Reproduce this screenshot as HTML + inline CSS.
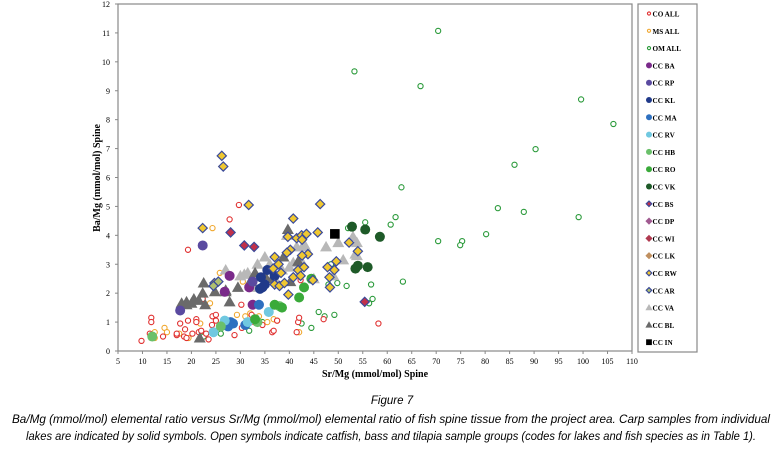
<!DOCTYPE html>
<html><head><meta charset="utf-8"><style>
body{margin:0;background:#fff;}
svg{display:block;font-family:"Liberation Serif",serif;}
</style></head><body>
<svg id="chart" width="784" height="455" viewBox="0 0 784 455" xmlns="http://www.w3.org/2000/svg">
<rect x="118" y="4" width="514" height="347" fill="#fff" stroke="#888" stroke-width="1.2"/>
<g id="axes"></g>
<g id="marks"></g>
<text x="375" y="377" text-anchor="middle" font-weight="bold" font-size="10">Sr/Mg (mmol/mol) Spine</text>
<text transform="translate(100,178) rotate(-90)" text-anchor="middle" font-weight="bold" font-size="10">Ba/Mg (mmol/mol) Spine</text>
<rect x="638" y="4" width="59" height="348" fill="#fff" stroke="#888" stroke-width="1.2"/>
<g id="legend"></g>
<text x="392" y="404" text-anchor="middle" font-family="Liberation Sans, sans-serif" font-style="italic" font-size="11.5">Figure 7</text>
<text x="12" y="423" textLength="758" lengthAdjust="spacingAndGlyphs" font-family="Liberation Sans, sans-serif" font-style="italic" font-size="11.5">Ba/Mg (mmol/mol) elemental ratio versus Sr/Mg (mmol/mol) elemental ratio of fish spine tissue from the project area. Carp samples from individual</text>
<text x="26" y="440" textLength="730" lengthAdjust="spacingAndGlyphs" font-family="Liberation Sans, sans-serif" font-style="italic" font-size="11.5">lakes are indicated by solid symbols. Open symbols indicate catfish, bass and tilapia sample groups (codes for lakes and fish species as in Table 1).</text>
</svg>
<script>
const xTicks=[5,10,15,20,25,30,35,40,45,50,55,60,65,70,75,80,85,90,95,100,105,110];
const yTicks=[0,1,2,3,4,5,6,7,8,9,10,11,12];
const seriesNames=["CO ALL","MS ALL","OM ALL","CC BA","CC RP","CC KL","CC MA","CC RV","CC HB","CC RO","CC VK","CC BS","CC DP","CC WI","CC LK","CC RW","CC AR","CC VA","CC BL","CC IN"];
const coAll=[[9.8,0.35],[11.8,1.15],[11.8,1.0],[11.5,0.6],[12,0.5],[14.2,0.5],[17,0.55],[17,0.6],[17.7,0.95],[18.5,0.5],[18.7,0.75],[19,0.45],[19.3,1.05],[19.3,3.5],[20.2,0.6],[21,1.1],[21,1.0],[21.5,0.65],[22,0.7],[22.3,1.8],[23,0.6],[23.5,0.4],[24.2,0.9],[24.3,1.2],[25,1.25],[25,1.05],[27,1.0],[27.8,4.55],[28.8,0.55],[29.7,5.05],[30.2,1.6],[30.3,0.8],[32.3,1.25],[32.8,1.0],[34.5,0.9],[36.5,0.65],[36.8,0.7],[41.5,0.65],[41.8,1.0],[42,1.15],[42.3,2.45],[47,1.1],[58.2,0.95],[37.5,1.05]];
const msAll=[[12.5,0.65],[14.5,0.8],[15,0.65],[12.5,0.45],[19.4,0.45],[21.8,0.95],[23.8,1.65],[24.3,4.25],[25.8,2.7],[29.3,1.25],[31,1.2],[32,1.3],[33.8,1.2],[35.5,1.0],[36.8,1.1],[37.5,1.05],[42,0.65],[30.5,2.4],[26.7,1.0],[17.5,0.6]];
const omAll=[[70.4,11.07],[66.8,9.16],[99.6,8.7],[106.2,7.85],[90.3,6.98],[86,6.44],[62.9,5.66],[82.6,4.94],[87.9,4.81],[99.1,4.63],[61.7,4.63],[60.7,4.37],[80.2,4.04],[70.4,3.8],[75.3,3.8],[74.9,3.66],[63.2,2.4],[53.3,9.67],[55.5,4.45],[52,4.25],[51.7,2.25],[48,2.3],[49.8,2.35],[56.7,2.3],[57,1.8],[56.3,1.65],[46,1.35],[47.2,1.2],[49.2,1.25],[44.5,0.8],[42.5,0.95],[31.8,0.7],[26,0.6],[22.5,0.5],[34.5,1.0],[48.5,3.0]];
const ccBA=[[27.8,2.6],[26.8,2.05],[31.8,2.2],[32.5,1.6]];
const ccRP=[[22.3,3.65],[17.7,1.4],[32.5,2.4]];
const ccKL=[[34.2,2.55],[34.5,2.2],[35,2.3],[34,2.15],[37,2.6],[35.5,2.8]];
const ccMA=[[33.8,1.6],[26.5,0.9],[27.5,0.85],[28.5,0.95],[31,0.9],[28,1.0]];
const ccRV=[[24.5,0.65],[26.8,1.05],[35.8,1.35],[31.5,1.0]];
const ccHB=[[12,0.5],[26,0.85],[33.5,1.0],[38,1.55]];
const ccRO=[[33,1.1],[37,1.6],[38.5,1.5],[42,1.85],[43,2.2],[44.5,2.5]];
const ccVK=[[52.8,4.3],[55.5,4.2],[58.5,3.95],[53.5,2.85],[54,2.95],[56,2.9]];
const ccBS=[[28,4.1],[30.8,3.65],[32.8,3.6],[55.4,1.7]];
const ccRW=[[26.2,6.75],[26.5,6.38],[22.3,4.25],[31.7,5.05],[46.3,5.08],[40.8,4.58],[24.7,2.35],[37,3.25],[36.7,2.85],[37.8,3.0],[38.3,2.7],[39.7,3.95],[40.2,3.5],[41.5,3.9],[42.5,4.0],[43.5,4.05],[42.6,3.85],[45.8,4.1],[43.8,3.35],[42.6,3.3],[41.8,2.8],[43,2.9],[40.8,2.55],[42.3,2.6],[39.8,1.95],[44.8,2.45],[37,2.3],[38,2.25],[39,2.35],[47.8,2.9],[48.2,2.55],[48.3,2.2],[49.6,3.1],[49.2,2.8],[52.2,3.75],[54,3.45],[39.5,3.4]];
const ccAR=[[25.5,2.4],[24.5,2.25]];
const ccVA=[[27,2.8],[30,2.6],[30.8,2.65],[31.5,2.7],[33.5,3.0],[35,3.25],[36,3.0],[39.5,4.0],[40,2.9],[41.5,3.6],[42.5,3.1],[43,3.7],[43.3,3.6],[47.5,3.6],[50,3.75],[51,3.15],[53,3.95],[53.8,3.75],[53.5,3.35],[53.8,3.3],[38.5,2.8],[45,2.5],[49,2.6],[40.8,3.05],[37,2.5],[33,2.2]];
const ccBL=[[18,1.65],[19,1.6],[20,1.65],[20.5,1.8],[21.5,1.75],[22.5,2.35],[22.3,2.0],[22.8,1.6],[24.8,2.05],[27,2.1],[27.8,1.7],[27,2.05],[29.5,2.2],[32,2.4],[33,2.7],[35,2.6],[38.8,3.25],[39.7,4.2],[41.8,3.1],[36.5,2.5],[21.7,0.45],[19,1.7],[40.2,2.4]];
const ccIN=[[49.3,4.05]];

const NS="http://www.w3.org/2000/svg";
const X0=118,X1=632,Y0=351,Y1=4;
function xs(v){return X0+(v-5)/(110-5)*(X1-X0);}
function ys(v){return Y0-(v/12)*(Y0-Y1);}
function mk(tag,attrs,parent){const e=document.createElementNS(NS,tag);for(const k in attrs)e.setAttribute(k,attrs[k]);parent.appendChild(e);return e;}
const axes=document.getElementById('axes');
xTicks.forEach(t=>{
  const l=mk('line',{x1:xs(t),x2:xs(t),y1:Y0,y2:Y0+3,stroke:'#888'},axes);
  
  
  const tx=mk('text',{x:xs(t),y:Y0+13,'text-anchor':'middle','font-size':'8'},axes);
  tx.textContent=t;
  
  
});
yTicks.forEach(t=>{
  const l=mk('line',{x1:X0-3,x2:X0,y1:ys(t),y2:ys(t),stroke:'#888'},axes);
  
  
  const tx=mk('text',{x:X0-8,y:ys(t)+3,'text-anchor':'end','font-size':'8'},axes);
  tx.textContent=t;
  
  
});
const styles=[
 {d:coAll,s:'ocirc',c:'#e03030'},{d:msAll,s:'ocirc',c:'#f0a830'},{d:omAll,s:'ocirc',c:'#2a9a3a'},
 {d:ccBA,s:'circ',c:'#7a2a8a'},{d:ccRP,s:'circ',c:'#5a4aa0'},{d:ccKL,s:'circ',c:'#203a8a'},
 {d:ccMA,s:'circ',c:'#2e70c0'},{d:ccRV,s:'circ',c:'#70c8e0'},{d:ccHB,s:'circ',c:'#6ac06a'},
 {d:ccRO,s:'circ',c:'#3aaa3a'},{d:ccVK,s:'circ',c:'#1e5a28'},{d:ccBS,s:'dia',c:'#c0304a',st:'#3a4a9a'},
 {d:[],s:'dia',c:'#a05a90'},{d:[],s:'dia',c:'#b03a50'},{d:[],s:'dia',c:'#c09060'},
 {d:ccRW,s:'dia',c:'#f0c830',st:'#3a4a9a'},{d:ccAR,s:'dia',c:'#b0c070',st:'#3a4a9a'},
 {d:ccVA,s:'tri',c:'#b8b8b8'},{d:ccBL,s:'tri',c:'#6a6a6a'},{d:ccIN,s:'sq',c:'#000'}];
function drawMark(g,s,x,y,sc){
  let e;
  if(s.s==='ocirc') e=mk('circle',{cx:x,cy:y,r:2.6*sc,fill:'#fff',stroke:s.c,'stroke-width':1.1},g);
  else if(s.s==='circ') e=mk('circle',{cx:x,cy:y,r:5*sc,fill:s.c},g);
  else if(s.s==='dia'){const r=4.6*sc;e=mk('polygon',{points:`${x},${y-r} ${x+r},${y} ${x},${y+r} ${x-r},${y}`,fill:s.c,stroke:s.st||s.c,'stroke-width':1.2},g);}
  else if(s.s==='tri'){const r=6*sc;e=mk('polygon',{points:`${x},${y-r} ${x+r},${y+r*0.75} ${x-r},${y+r*0.75}`,fill:s.c},g);}
  else {const r=4.8*sc;e=mk('rect',{x:x-r,y:y-r,width:2*r,height:2*r,fill:s.c},g);}
  return e;
}
const marks=document.getElementById('marks');
const order=[2,1,0,17,18,3,4,5,6,7,8,9,10,11,15,16,19];
order.forEach(i=>{
  const s=styles[i];
  const g=mk('g',{},marks);
  
  
  s.d.forEach(p=>{
    const e=drawMark(g,s,xs(p[0]),ys(p[1]),1);
    
    
  });
});
const leg=document.getElementById('legend');
seriesNames.forEach((n,i)=>{
  const y=13.5+i*17.3;
  const g=mk('g',{},leg);
  
  
  drawMark(g,styles[i],649,y,0.6);
  const t=mk('text',{x:652.5,y:y+3,'font-size':'7.2','font-weight':'bold'},g);
  t.textContent=n;
});
</script>
</body></html>
